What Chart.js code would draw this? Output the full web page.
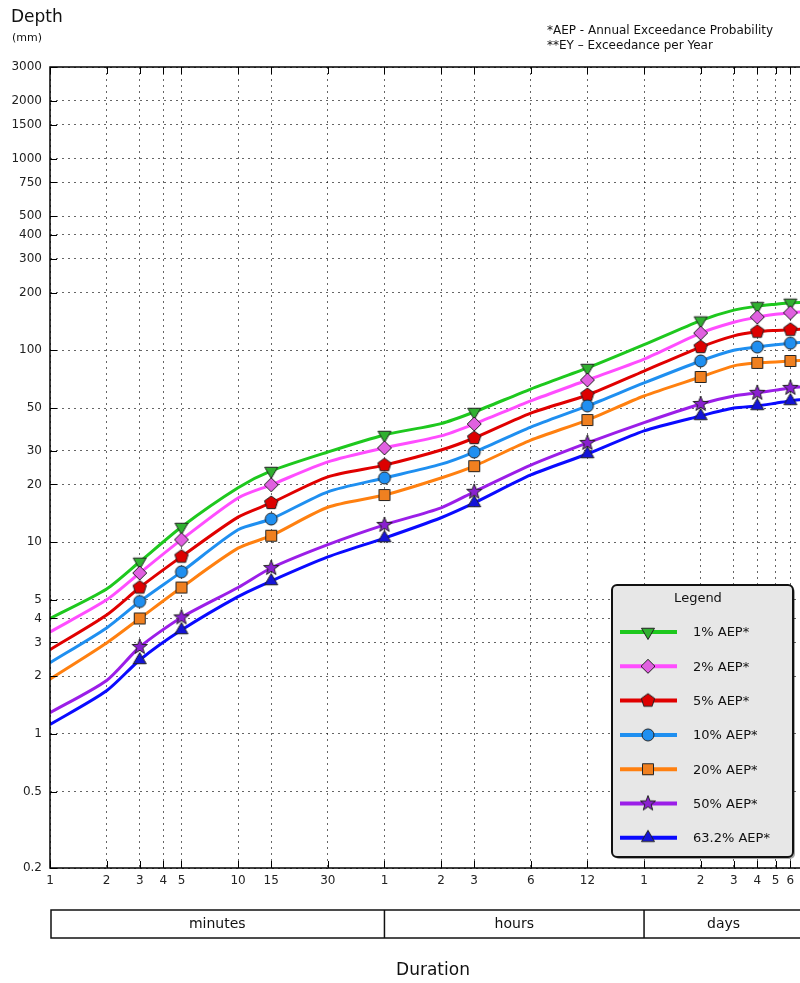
<!DOCTYPE html>
<html>
<head>
<meta charset="utf-8">
<script src="https://cdn.jsdelivr.net/npm/chart.js@4.4.1/dist/chart.umd.min.js"></script>
<style>
  html, body { margin: 0; padding: 0; background: #fff; overflow: hidden; }
  #wrap { width: 800px; height: 983px; overflow: hidden; position: relative; }
  canvas { position: absolute; left: 0; top: 0; }
</style>
</head>
<body>
<div id="wrap"><canvas id="ifd" width="820" height="983"></canvas></div>
<script>
// durations (minutes) and which of them carry a marker
const durations = [1, 2, 3, 5, 10, 15, 30, 60, 120, 180, 360, 720, 1440, 2880, 4320, 5760, 7200, 8640, 10080];
const markedDurations = [3, 5, 15, 60, 180, 720, 2880, 5760, 8640];

const seriesLabels = ['1% AEP*', '2% AEP*', '5% AEP*', '10% AEP*', '20% AEP*', '50% AEP*', '63.2% AEP*'];

// depths (mm)
const aep1  = [4.0, 5.7, 7.9, 12.0, 19.2, 23.5, 29.5, 36.2, 41.5, 47.7, 62.8, 80.9, 107, 143, 162, 170, 174, 177, 178];
const aep2  = [3.4, 5.0, 6.9, 10.3, 17.0, 19.9, 26.2, 31.0, 35.8, 41.3, 54.5, 70.0, 90, 123, 140, 149, 154, 157, 159];
const aep5  = [2.75, 4.17, 5.8, 8.4, 13.5, 16.0, 21.9, 25.2, 30.2, 34.9, 47.1, 58.5, 78, 104, 119, 125, 127, 128, 129];
const aep10 = [2.35, 3.57, 4.9, 7.0, 11.6, 13.2, 18.3, 21.6, 25.5, 29.5, 39.8, 51.3, 67.6, 88, 100, 104, 107, 109, 110];
const aep20 = [1.93, 2.98, 4.0, 5.8, 9.3, 10.8, 15.2, 17.6, 21.6, 24.9, 34.0, 43.3, 57.8, 72.6, 83, 86, 87, 88, 88.5];
const aep50 = [1.29, 1.9, 2.84, 4.05, 5.8, 7.33, 9.7, 12.3, 15.1, 18.3, 25.2, 32.9, 42, 52.5, 57.8, 60, 62, 63.7, 64.5];
const aep632 = [1.12, 1.68, 2.43, 3.48, 5.2, 6.27, 8.37, 10.5, 13.4, 16.0, 22.4, 28.8, 38, 45.5, 50, 51.3, 53, 54.5, 55.5];

const xTicks = [1, 2, 3, 4, 5, 10, 15, 30, 60, 120, 180, 360, 720, 1440, 2880, 4320, 5760, 7200, 8640];
const xTickLabels = ['1', '2', '3', '4', '5', '10', '15', '30', '1', '2', '3', '6', '12', '1', '2', '3', '4', '5', '6'];
const yTicks = [0.2, 0.5, 1, 2, 3, 4, 5, 10, 20, 30, 50, 100, 200, 300, 400, 500, 750, 1000, 1500, 2000, 3000];

const unitLabels = ['minutes', 'hours', 'days'];
const unitBounds = [1, 60, 1440, 10080];

// styles
const lineColors = ['#1ec81e', '#ff4dff', '#e00000', '#1f8ff0', '#ff8010', '#9b1ee8', '#0a0aff'];
const markerFills = ['#30b030', '#e060e0', '#dd0000', '#1f8ff0', '#f08020', '#8a20d0', '#1414d8'];
const markerShapes = ['triDown', 'diamond', 'pentagon', 'circle', 'square', 'star', 'triUp'];
const FONT = "'DejaVu Sans', sans-serif";

function polygon(ctx, n, r, start) {
  ctx.beginPath();
  for (let i = 0; i < n; i++) {
    const a = start + i * 2 * Math.PI / n;
    ctx.lineTo(r * Math.cos(a), r * Math.sin(a));
  }
  ctx.closePath();
}

function makeMarker(shape, fill) {
  const c = document.createElement('canvas');
  c.width = 18; c.height = 18;
  const g = c.getContext('2d');
  g.translate(9, 9);
  g.fillStyle = fill;
  g.strokeStyle = '#222';
  g.lineWidth = 1;
  if (shape === 'circle') {
    g.beginPath(); g.arc(0, 0, 6, 0, 2 * Math.PI);
  } else if (shape === 'square') {
    g.beginPath(); g.rect(-5.5, -5.5, 11, 11);
  } else if (shape === 'diamond') {
    g.beginPath(); g.moveTo(0, -7); g.lineTo(7, 0); g.lineTo(0, 7); g.lineTo(-7, 0); g.closePath();
  } else if (shape === 'triDown') {
    polygon(g, 3, 7.5, Math.PI / 2);
  } else if (shape === 'triUp') {
    polygon(g, 3, 7.5, -Math.PI / 2);
  } else if (shape === 'pentagon') {
    polygon(g, 5, 7, -Math.PI / 2);
  } else if (shape === 'star') {
    g.beginPath();
    for (let i = 0; i < 10; i++) {
      const r = i % 2 === 0 ? 8 : 3.3;
      const a = -Math.PI / 2 + i * Math.PI / 5;
      g.lineTo(r * Math.cos(a), r * Math.sin(a));
    }
    g.closePath();
  }
  g.fill();
  g.stroke();
  return c;
}

const seriesValues = [aep1, aep2, aep5, aep10, aep20, aep50, aep632];
const markers = markerShapes.map((s, i) => makeMarker(s, markerFills[i]));

const datasets = seriesLabels.map((label, i) => ({
  label,
  data: durations.map((d, j) => ({ x: d, y: seriesValues[i][j] })),
  borderColor: lineColors[i],
  backgroundColor: markerFills[i],
  borderWidth: 3,
  tension: 0.25,
  pointStyle: markers[i],
  pointRadius: (c) => markedDurations.includes(durations[c.dataIndex]) ? 7 : 0,
  order: 7 - i
}));

function line(ctx, x1, y1, x2, y2) {
  ctx.beginPath(); ctx.moveTo(x1, y1); ctx.lineTo(x2, y2); ctx.stroke();
}

function roundRect(ctx, x, y, w, h, r) {
  ctx.beginPath();
  ctx.moveTo(x + r, y);
  ctx.arcTo(x + w, y, x + w, y + h, r);
  ctx.arcTo(x + w, y + h, x, y + h, r);
  ctx.arcTo(x, y + h, x, y, r);
  ctx.arcTo(x, y, x + w, y, r);
  ctx.closePath();
}

const extras = {
  id: 'extras',
  afterDraw(chart) {
    const ctx = chart.ctx;
    const a = chart.chartArea;
    const xs = chart.scales.x, ys = chart.scales.y;
    ctx.save();

    // inward tick marks
    ctx.strokeStyle = '#000';
    ctx.lineWidth = 1;
    xTicks.forEach(v => {
      const px = Math.round(xs.getPixelForValue(v)) + 0.5;
      line(ctx, px, a.bottom, px, a.bottom - 7);
      line(ctx, px, a.top, px, a.top + 7);
    });
    yTicks.forEach(v => {
      const py = Math.round(ys.getPixelForValue(v)) + 0.5;
      line(ctx, a.left, py, a.left + 7, py);
    });

    // frame
    ctx.lineWidth = 1.5;
    ctx.strokeRect(a.left, a.top, a.right - a.left, a.bottom - a.top);

    // titles
    ctx.fillStyle = '#111';
    ctx.textBaseline = 'middle';
    ctx.textAlign = 'left';
    ctx.font = '17px ' + FONT;
    ctx.fillText('Depth', 11, 18);
    ctx.font = '11px ' + FONT;
    ctx.fillText('(mm)', 12, 38);
    ctx.font = '12px ' + FONT;
    ctx.fillText('*AEP - Annual Exceedance Probability', 547, 31);
    ctx.fillText('**EY \u2013 Exceedance per Year', 547, 46);
    ctx.textAlign = 'center';
    ctx.font = '17px ' + FONT;
    ctx.fillText('Duration', 433, 971);

    // unit boxes under the axis
    const bTop = 910, bBot = 938;
    ctx.lineWidth = 1.5;
    ctx.strokeStyle = '#111';
    const left = xs.getPixelForValue(unitBounds[0]) + 1;
    const right = xs.getPixelForValue(unitBounds[unitBounds.length - 1]);
    ctx.strokeRect(left, bTop, right - left, bBot - bTop);
    ctx.font = '14px ' + FONT;
    unitLabels.forEach((u, i) => {
      const x1 = xs.getPixelForValue(unitBounds[i]);
      const x2 = xs.getPixelForValue(unitBounds[i + 1]);
      if (i > 0) line(ctx, x1, bTop, x1, bBot);
      ctx.fillText(u, (x1 + x2) / 2, (bTop + bBot) / 2);
    });

    // legend box
    const lw = 181, lh = 272;
    const lx = a.right - 10 - lw, ly = a.bottom - 11 - lh;
    ctx.fillStyle = 'rgba(0,0,0,0.35)';
    roundRect(ctx, lx + 2, ly + 2, lw, lh, 5);
    ctx.fill();
    ctx.fillStyle = '#e7e7e7';
    ctx.strokeStyle = '#111';
    ctx.lineWidth = 2;
    roundRect(ctx, lx, ly, lw, lh, 5);
    ctx.fill();
    ctx.stroke();
    ctx.fillStyle = '#111';
    ctx.font = '13px ' + FONT;
    ctx.textAlign = 'center';
    ctx.fillText('Legend', lx + 86, ly + 14);
    ctx.textAlign = 'left';
    chart.data.datasets.forEach((ds, i) => {
      const ry = ly + 47 + i * 34.3;
      ctx.strokeStyle = ds.borderColor;
      ctx.lineWidth = 4;
      line(ctx, lx + 8, ry, lx + 65, ry);
      const m = ds.pointStyle;
      ctx.drawImage(m, lx + 36 - m.width / 2, ry - m.height / 2);
      ctx.fillStyle = '#111';
      ctx.fillText(ds.label, lx + 81, ry + 1);
    });

    ctx.restore();
  }
};

new Chart(document.getElementById('ifd'), {
  type: 'line',
  data: { datasets },
  options: {
    responsive: false,
    animation: false,
    layout: { padding: { top: 67, right: 17, left: 0, bottom: 0 } },
    plugins: { legend: { display: false }, tooltip: { enabled: false } },
    scales: {
      x: {
        type: 'logarithmic',
        min: 1,
        max: 10080,
        afterBuildTicks: (axis) => { axis.ticks = xTicks.map(v => ({ value: v })); },
        afterFit: (axis) => { axis.height = 115; },
        border: { display: false, dash: [2, 4] },
        grid: { color: 'rgba(0,0,0,0.6)', lineWidth: 1, drawTicks: false },
        ticks: {
          autoSkip: false, maxRotation: 0, padding: 6,
          color: '#222', font: { family: FONT, size: 12 },
          major: { enabled: false },
          callback: (v, i) => xTickLabels[i]
        }
      },
      y: {
        type: 'logarithmic',
        min: 0.2,
        max: 3000,
        afterBuildTicks: (axis) => { axis.ticks = yTicks.map(v => ({ value: v })); },
        afterFit: (axis) => { axis.width = 50; },
        border: { display: false, dash: [2, 4] },
        grid: { color: 'rgba(0,0,0,0.6)', lineWidth: 1, drawTicks: false },
        ticks: {
          autoSkip: false, padding: 8,
          color: '#222', font: { family: FONT, size: 12 },
          major: { enabled: false },
          callback: (v, i) => String(yTicks[i])
        }
      }
    }
  },
  plugins: [extras]
});
</script>
</body>
</html>
